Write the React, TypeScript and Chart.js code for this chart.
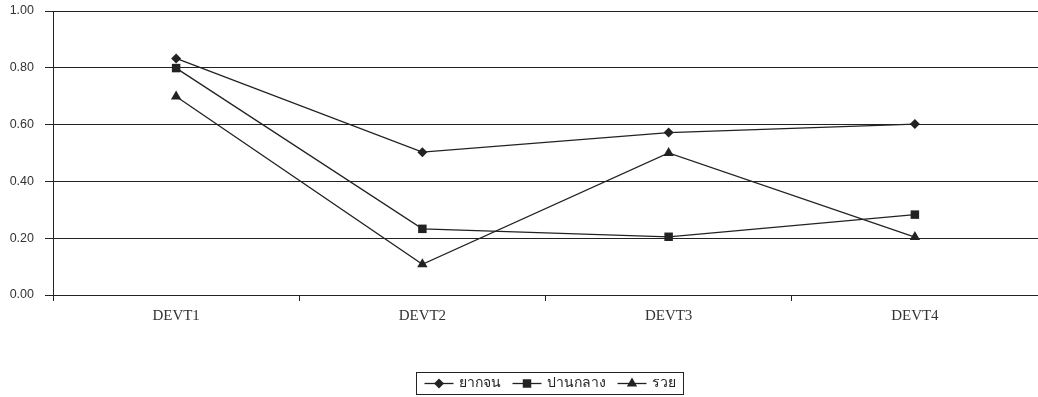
import React, { useEffect, useRef } from "react";
import { Chart, registerables } from "chart.js";

Chart.register(...registerables);

const categories = ["DEVT1", "DEVT2", "DEVT3", "DEVT4"];
const seriesNames = ["ยากจน", "ปานกลาง", "รวย"];
const poorValues = [0.833, 0.503, 0.572, 0.602];
const middleValues = [0.799, 0.233, 0.205, 0.283];
const richValues = [0.699, 0.108, 0.5, 0.204];
const yTicks = [0, 0.2, 0.4, 0.6, 0.8, 1.0];

const INK = "#222";
const markerStyles = ["rectRot", "rect", "triangle"];
const markerRadius = [5, 6, 6];

function drawMarker(ctx: CanvasRenderingContext2D, style: string, x: number, y: number, r: number) {
  ctx.beginPath();
  if (style === "rectRot") {
    ctx.moveTo(x, y - r);
    ctx.lineTo(x + r, y);
    ctx.lineTo(x, y + r);
    ctx.lineTo(x - r, y);
  } else if (style === "rect") {
    const s = r * Math.SQRT1_2;
    ctx.rect(x - s, y - s, 2 * s, 2 * s);
  } else {
    const h = (r * 3) / 2;
    const e = (r * 3) / Math.sqrt(3);
    ctx.moveTo(x - e / 2, y + h / 3);
    ctx.lineTo(x + e / 2, y + h / 3);
    ctx.lineTo(x, y - (2 * h) / 3);
  }
  ctx.closePath();
  ctx.fill();
}

const legendPlugin = {
  id: "boxLegend",
  afterDraw(chart: any) {
    const ctx: CanvasRenderingContext2D = chart.ctx;
    const area = chart.chartArea;
    ctx.save();
    ctx.font = '14px "Liberation Sans", Arial, sans-serif';
    const lineLen = 29;
    const gapAfterLine = 5;
    const gapBetween = 12;
    const padX = 8;
    const widths = seriesNames.map((n) => ctx.measureText(n).width);
    let total = padX * 2;
    widths.forEach((w, i) => {
      total += lineLen + gapAfterLine + w;
      if (i < widths.length - 1) total += gapBetween;
    });
    const cx = (area.left + area.right) / 2 + 4;
    const x0 = Math.round(cx - total / 2) + 0.5;
    const top = 372.5;
    const h = 22;
    ctx.strokeStyle = INK;
    ctx.lineWidth = 1;
    ctx.strokeRect(x0, top, Math.round(total), h);
    const midY = top + h / 2;
    let x = x0 + padX;
    ctx.fillStyle = INK;
    ctx.textBaseline = "middle";
    ctx.textAlign = "left";
    seriesNames.forEach((n, i) => {
      ctx.beginPath();
      ctx.moveTo(x, midY);
      ctx.lineTo(x + lineLen, midY);
      ctx.lineWidth = 1.3;
      ctx.stroke();
      drawMarker(ctx, markerStyles[i], x + lineLen / 2, midY, markerRadius[i]);
      x += lineLen + gapAfterLine;
      ctx.fillText(n, x, midY);
      x += widths[i] + gapBetween;
    });
    ctx.restore();
  },
};

export default function App() {
  const ref = useRef<HTMLCanvasElement>(null);
  useEffect(() => {
    document.body.style.margin = "0";
    const values = [poorValues, middleValues, richValues];
    const chart = new Chart(ref.current!, {
      type: "line",
      data: {
        labels: categories,
        datasets: seriesNames.map((name, i) => ({
          label: name,
          data: values[i],
          borderColor: INK,
          backgroundColor: INK,
          borderWidth: 1.3,
          pointStyle: markerStyles[i] as any,
          pointRadius: markerRadius[i],
          pointBorderWidth: 0,
          pointBackgroundColor: INK,
          tension: 0,
          fill: false,
          clip: false as any,
        })),
      },
      options: {
        responsive: false,
        animation: false,
        layout: { autoPadding: false, padding: { top: 11, right: 0, left: 0, bottom: 0 } },
        plugins: { legend: { display: false }, tooltip: { enabled: false } },
        scales: {
          x: {
            offset: true,
            grid: {
              display: true,
              drawOnChartArea: false,
              drawTicks: true,
              tickLength: 6,
              color: INK,
              offset: true,
            },
            border: { display: true, color: INK, width: 1 },
            ticks: {
              color: "#333",
              font: { family: '"Liberation Serif", "Times New Roman", serif', size: 15 },
              padding: 6,
              maxRotation: 0,
            },
            afterFit: (s: any) => {
              s.height = 102;
              s.paddingLeft = 0;
              s.paddingRight = 0;
            },
          },
          y: {
            min: 0,
            max: 1,
            afterBuildTicks: (s: any) => {
              s.ticks = yTicks.map((v) => ({ value: v }));
            },
            grid: {
              color: INK,
              lineWidth: 1,
              drawTicks: true,
              tickLength: 8,
            },
            border: { display: true, color: INK, width: 1 },
            ticks: {
              color: "#333",
              font: { family: '"Liberation Sans", Arial, sans-serif', size: 12.5 },
              padding: 11,
              callback: (v: any) => Number(v).toFixed(2),
            },
            afterFit: (s: any) => {
              s.width = 53;
              s.paddingTop = 0;
              s.paddingBottom = 0;
            },
          },
        },
      },
      plugins: [legendPlugin],
    });
    return () => chart.destroy();
  }, []);
  return <canvas ref={ref} width={1038} height={397} style={{ display: "block" }} />;
}
